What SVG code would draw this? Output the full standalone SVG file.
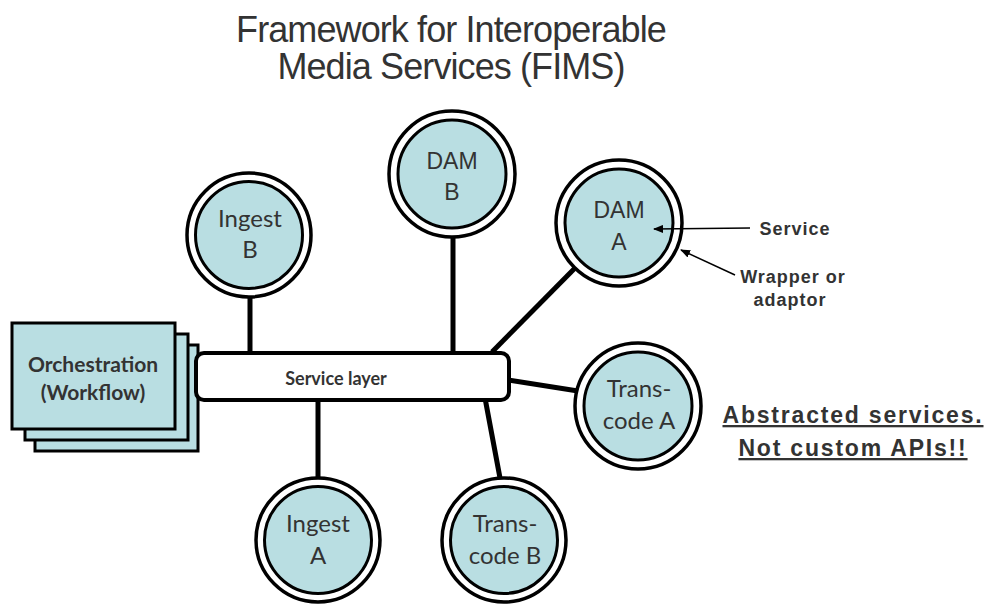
<svg xmlns="http://www.w3.org/2000/svg" width="985" height="605" viewBox="0 0 985 605">
<defs>
<marker id="ah" markerWidth="10" markerHeight="8" refX="9" refY="4" orient="auto" markerUnits="userSpaceOnUse">
<path d="M0,0 L10,4 L0,8 z" fill="#000"/>
</marker>
</defs>
<style>
.title{font-family:"Liberation Sans",Arial,sans-serif;font-size:36px;letter-spacing:-0.9px;fill:#333;text-anchor:middle}
.outer{fill:#fff;stroke:#000;stroke-width:3.5}
.inner{fill:#b9dee2;stroke:#000;stroke-width:3}
.cl{font-family:Lato,"Open Sans",sans-serif;font-size:24px;fill:#333;text-anchor:middle}
.al{font-family:"Liberation Sans",Arial,sans-serif;font-size:23px;fill:#333;text-anchor:middle}
.conn{stroke:#000;stroke-width:5;fill:none}
.orch{fill:#b9dee2;stroke:#000;stroke-width:3}
.bl{font-family:Lato,"Open Sans",sans-serif;font-weight:bold;fill:#333;text-anchor:middle}
.note{font-family:"Liberation Sans",Arial,sans-serif;font-weight:bold;font-size:18px;letter-spacing:1px;fill:#333;text-anchor:middle}
.big{font-family:"Liberation Sans",Arial,sans-serif;font-weight:bold;font-size:23px;letter-spacing:1.8px;fill:#333;text-anchor:middle;text-decoration:underline}
.ptr{stroke:#000;stroke-width:1.5;fill:none}
</style>
<rect width="985" height="605" fill="#fff"/>
<g id="title">
<text class="title" x="451" y="42">Framework for Interoperable</text>
<text class="title" x="451" y="79">Media Services (FIMS)</text>
</g>
<g id="connectors">
<line class="conn" x1="250" y1="296" x2="250" y2="354"/>
<line class="conn" x1="453" y1="236" x2="453" y2="354"/>
<line class="conn" x1="492" y1="352" x2="578" y2="265"/>
<line class="conn" x1="508" y1="380" x2="578" y2="391"/>
<line class="conn" x1="485" y1="398" x2="500" y2="478"/>
<line class="conn" x1="318" y1="398" x2="318" y2="479"/>
</g>
<g id="orchestration">
<rect class="orch" x="35" y="345" width="163" height="106"/>
<rect class="orch" x="25" y="334" width="163" height="106"/>
<rect class="orch" x="12" y="323" width="163" height="106"/>
<text class="bl" x="93" y="372" font-size="21">Orchestration</text>
<text class="bl" x="93" y="400" font-size="21">(Workflow)</text>
</g>
<g id="service-layer">
<rect x="196" y="353" width="313" height="47" rx="8" fill="#fff" stroke="#000" stroke-width="4"/>
<text class="bl" x="336" y="385" font-size="18">Service layer</text>
</g>
<g id="ingest-b">
<circle class="outer" cx="249" cy="235" r="62"/>
<circle class="inner" cx="249" cy="235" r="53.5"/>
<text class="cl" x="250" y="227">Ingest</text>
<text class="cl" x="250" y="258">B</text>
</g>
<g id="dam-b">
<circle class="outer" cx="452" cy="174" r="63"/>
<circle class="inner" cx="452" cy="174" r="54"/>
<text class="al" x="452" y="169">DAM</text>
<text class="al" x="452" y="200">B</text>
</g>
<g id="dam-a">
<circle class="outer" cx="619" cy="223" r="63"/>
<circle class="inner" cx="619" cy="223" r="54"/>
<text class="al" x="619" y="218">DAM</text>
<text class="al" x="619" y="250">A</text>
</g>
<g id="transcode-a">
<circle class="outer" cx="638" cy="406" r="63"/>
<circle class="inner" cx="638" cy="406" r="54"/>
<text class="cl" x="639" y="397">Trans-</text>
<text class="cl" x="639" y="429">code A</text>
</g>
<g id="ingest-a">
<circle class="outer" cx="318" cy="540" r="62"/>
<circle class="inner" cx="318" cy="540" r="53.5"/>
<text class="cl" x="318" y="532">Ingest</text>
<text class="cl" x="318" y="564">A</text>
</g>
<g id="transcode-b">
<circle class="outer" cx="504" cy="540" r="62"/>
<circle class="inner" cx="504" cy="540" r="53.5"/>
<text class="cl" x="505" y="532">Trans-</text>
<text class="cl" x="505" y="564">code B</text>
</g>
<g id="annotations">
<line class="ptr" x1="750" y1="228" x2="654" y2="229" marker-end="url(#ah)"/>
<line class="ptr" x1="735" y1="275" x2="681" y2="250" marker-end="url(#ah)"/>
<text class="note" x="795" y="235">Service</text>
<text class="note" x="793" y="283">Wrapper or</text>
<text class="note" x="790" y="306">adaptor</text>
<text class="big" x="853" y="423">Abstracted services.</text>
<text class="big" x="853" y="456">Not custom APIs!!</text>
</g>
</svg>
